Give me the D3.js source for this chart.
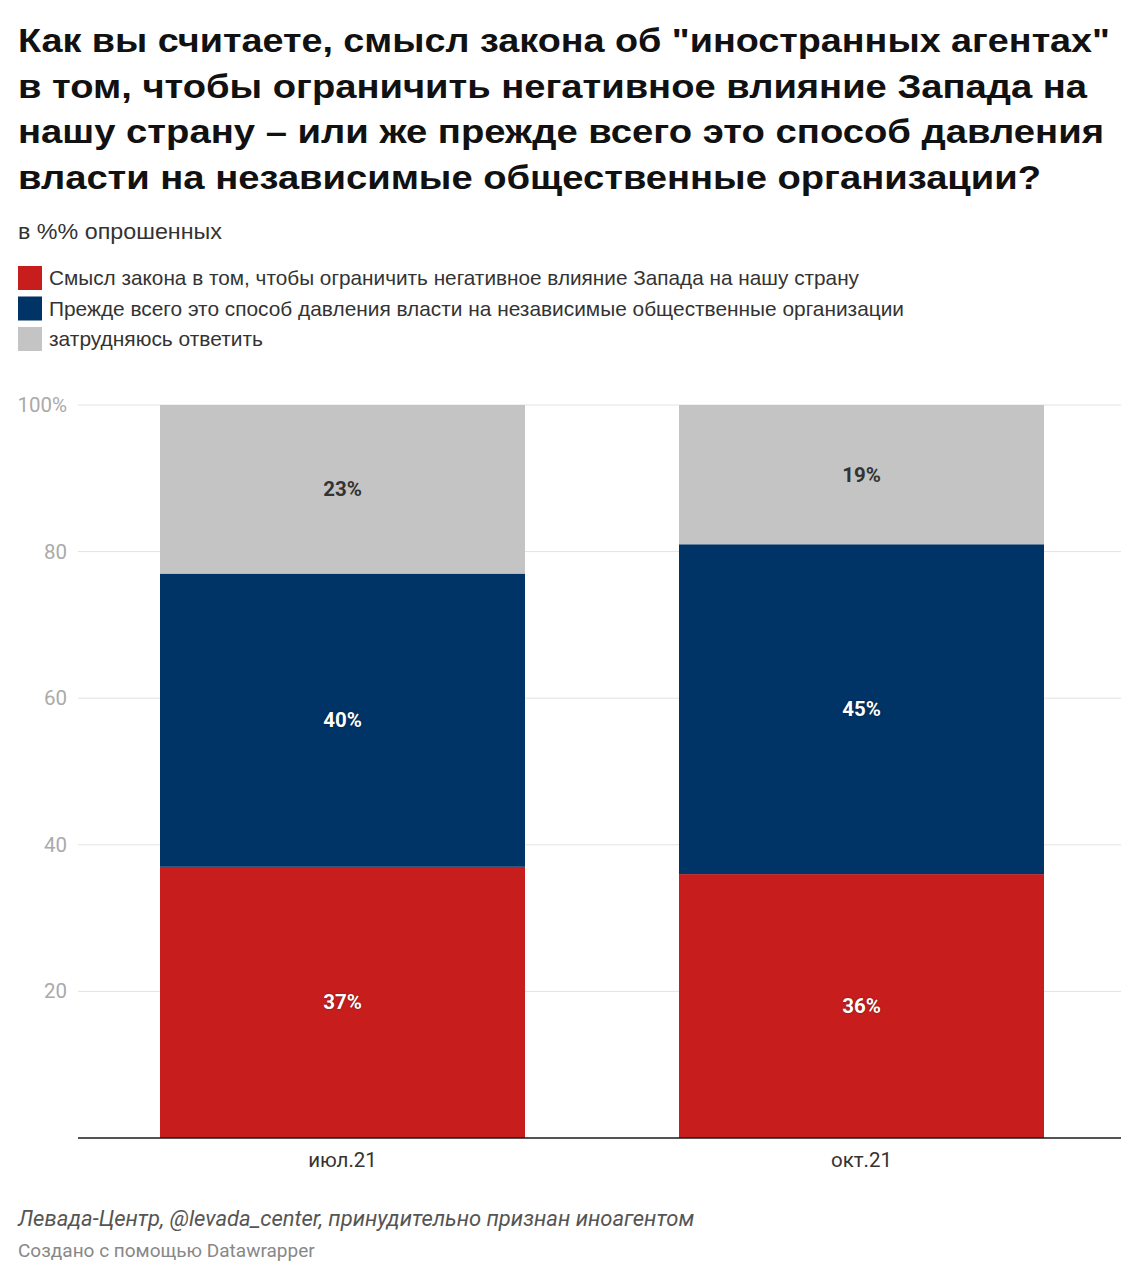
<!DOCTYPE html>
<html><head><meta charset="utf-8">
<script src="https://cdn.jsdelivr.net/npm/d3@7"></script>
<style>
body{margin:0;background:#fff;font-family:Roboto,"Noto Sans",sans-serif;}
</style></head>
<body>
<svg id="c" width="1139" height="1280"></svg>
<script>
const categories = ["июл.21", "окт.21"];
const seriesNames = [
  "Смысл закона в том, чтобы ограничить негативное влияние Запада на нашу страну",
  "Прежде всего это способ давления власти на независимые общественные организации",
  "затрудняюсь ответить"
];
const seriesColors = ["#c71e1d", "#003366", "#c4c4c4"];
const westValues = [37, 36];
const pressureValues = [40, 45];
const dontKnowValues = [23, 19];
const yTicks = [20, 40, 60, 80, 100];
const titleLines = [
  "Как вы считаете, смысл закона об \"иностранных агентах\"",
  "в том, чтобы ограничить негативное влияние Запада на",
  "нашу страну – или же прежде всего это способ давления",
  "власти на независимые общественные организации?"
];
const subtitle = "в %% опрошенных";
const sourceText = "Левада-Центр, @levada_center, принудительно признан иноагентом";
const creditText = "Создано с помощью Datawrapper";

const titleRight = [1110, 1087, 1104, 1041];
const legendRight = [859, 904, 263];

const svg = d3.select("#c");
svg.append("rect").attr("width",1139).attr("height",1280).attr("fill","#fff");
const LIB = "'Liberation Sans', Arial, sans-serif";

// title
titleLines.forEach((t,i)=>{
  svg.append("text").attr("x",18).attr("y",52+i*45.7)
    .attr("font-family",LIB).attr("font-weight",700).attr("font-size",34).attr("fill","#111")
    .attr("textLength",titleRight[i]-18).attr("lengthAdjust","spacingAndGlyphs")
    .text(t);
});
svg.append("text").attr("x",18).attr("y",239).attr("font-family",LIB)
  .attr("font-size",21.5).attr("fill","#333")
  .attr("textLength",204).attr("lengthAdjust","spacingAndGlyphs").text(subtitle);

// legend
const leg = svg.append("g");
seriesNames.forEach((n,i)=>{
  const y = 266 + i*30.5;
  leg.append("rect").attr("x",18).attr("y",y).attr("width",24).attr("height",24).attr("fill",seriesColors[i]);
  leg.append("text").attr("x",49).attr("y",y+19).attr("font-family",LIB)
    .attr("font-size",20.3).attr("fill","#333")
    .attr("textLength",legendRight[i]-49).attr("lengthAdjust","spacingAndGlyphs").text(n);
});

// chart
const x = d3.scaleBand().domain(categories).range([78,1126]).paddingInner(0.2967).paddingOuter(0.158);
const y = d3.scaleLinear().domain([0,100]).range([1138,405]);

const grid = svg.append("g");
grid.selectAll("line").data(yTicks).join("line")
  .attr("x1",78).attr("x2",1121).attr("y1",d=>y(d)).attr("y2",d=>y(d))
  .attr("stroke","#e3e3e3").attr("stroke-width",1);
grid.selectAll("text").data(yTicks).join("text")
  .attr("x",67).attr("y",d=>y(d)+7).attr("text-anchor","end")
  .attr("font-size",20.5).attr("fill","#aaa")
  .text(d=>d===100?"100%":d);

const data = categories.map((c,i)=>({cat:c, west:westValues[i], pressure:pressureValues[i], dk:dontKnowValues[i]}));
const keys = ["west","pressure","dk"];
const stacked = d3.stack().keys(keys)(data);

const layers = svg.append("g").selectAll("g").data(stacked).join("g")
  .attr("fill",(d,i)=>seriesColors[i]);
layers.selectAll("rect").data(d=>d).join("rect")
  .attr("x",d=>x(d.data.cat)).attr("width",x.bandwidth())
  .attr("y",d=>y(d[1])).attr("height",d=>y(d[0])-y(d[1]));

const labels = svg.append("g");
stacked.forEach((layer,li)=>{
  layer.forEach(d=>{
    const v = d[1]-d[0];
    const t = labels.append("text")
      .attr("x",x(d.data.cat)+x.bandwidth()/2)
      .attr("y",(y(d[0])+y(d[1]))/2+7)
      .attr("text-anchor","middle").attr("font-size",20.5).attr("font-weight",700)
      .attr("fill", li===2?"#333":"#fff")
      .text(v+"%");
    if(li!==2) t.style("text-shadow","0 0 2px rgba(0,0,0,0.5)");
  });
});

// baseline
svg.append("line").attr("x1",78).attr("x2",1121).attr("y1",y(0)).attr("y2",y(0))
  .attr("stroke","#1a1a1a").attr("stroke-width",1.5);

// x axis labels
svg.append("g").selectAll("text").data(categories).join("text")
  .attr("x",d=>x(d)+x.bandwidth()/2).attr("y",1167)
  .attr("text-anchor","middle").attr("font-size",20.5).attr("fill","#333").text(d=>d);

// footer
svg.append("text").attr("x",18).attr("y",1226).attr("font-size",22).attr("font-style","italic")
  .attr("fill","#555").text(sourceText);
svg.append("text").attr("x",18).attr("y",1257).attr("font-size",19)
  .attr("fill","#888").text(creditText);
</script>
</body></html>
